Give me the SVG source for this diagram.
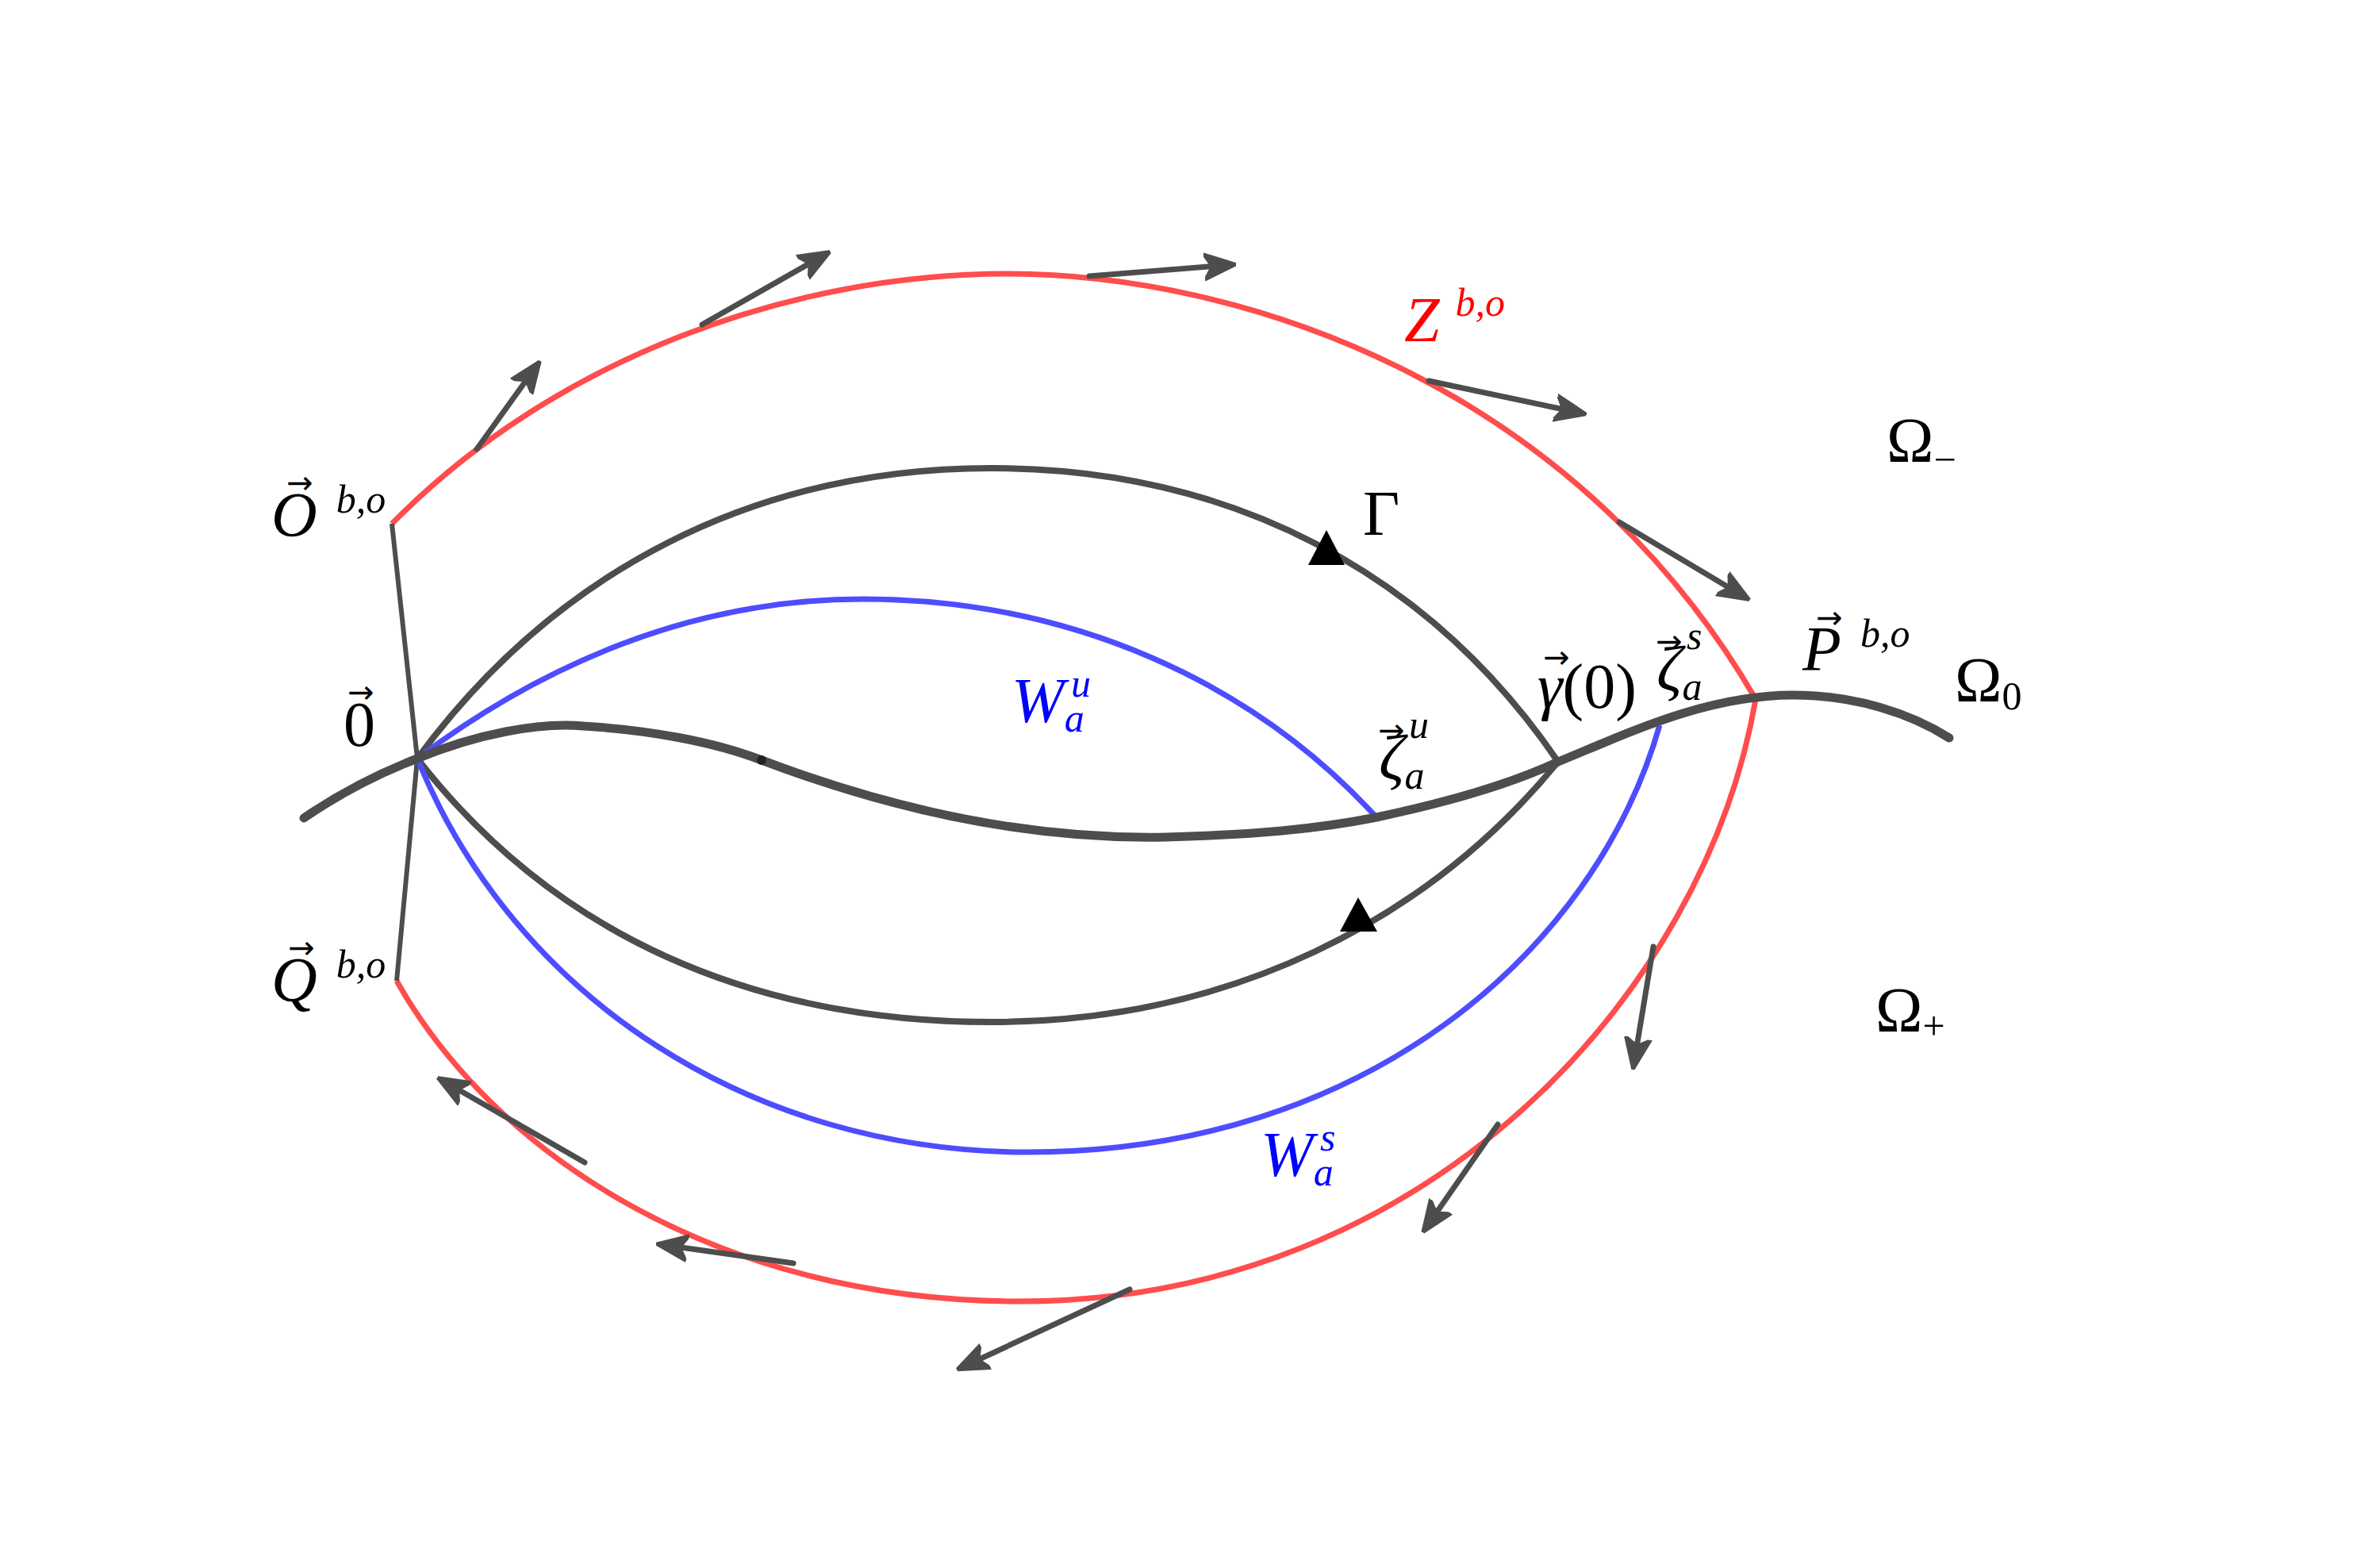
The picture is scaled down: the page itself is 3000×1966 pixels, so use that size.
<svg xmlns="http://www.w3.org/2000/svg" width="3000" height="1966" viewBox="0 0 3000 1966">
<style>
.red{fill:none;stroke:#ff4d4d;stroke-width:7}
.blue{fill:none;stroke:#4d4dff;stroke-width:7}
.blk{fill:none;stroke:#4d4d4d;stroke-width:8}
.gl{fill:none;stroke:#4d4d4d;stroke-width:6}
.arr{fill:none;stroke:#4d4d4d;stroke-width:7;stroke-linecap:round;marker-end:url(#ah)}
.t{font-family:"Liberation Serif",serif;font-style:italic;font-size:80px;fill:#000}
.u{font-family:"Liberation Serif",serif;font-size:80px;fill:#000}
.v{font-family:"DejaVu Sans",sans-serif;font-size:40px;fill:#000;text-anchor:middle}
.s{font-size:50px}
</style>
<defs>
<marker id="ah" viewBox="0 0 40 36" refX="30" refY="18" markerWidth="40" markerHeight="36" orient="auto" markerUnits="userSpaceOnUse">
<path d="M0,2 L40,18 L0,34 L10,18 Z" fill="#4d4d4d" stroke="#4d4d4d" stroke-width="4" stroke-linejoin="round"/>
</marker>
</defs>
<rect width="3000" height="1966" fill="#fff"/>
<g id="connectors">
<path class="red" d="M494,660 C700,450 1000,345 1270,345 C1560,345 1980,480 2213,881 C2150,1250 1800,1640 1285,1640 C900,1640 620,1450 500,1236"/>
<path class="gl" d="M494,660 L526,956 L500,1236"/>
<path class="blk" d="M526,956 C700,720 950,590 1250,590 C1550,590 1800,720 1964,960"/>
<path class="blk" d="M526,956 C700,1180 950,1288 1250,1288 C1550,1288 1800,1160 1964,960"/>
<path class="blue" d="M526,956 C680,840 870,755 1087,755 C1350,755 1580,860 1735,1030"/>
<path class="blue" d="M526,956 C650,1260 950,1452 1296,1452 C1720,1452 2010,1200 2092,914"/>
<path fill="none" stroke="#4d4d4d" stroke-width="11" stroke-linecap="round" d="M383,1031 Q450,985 526,956 C600,925 680,910 735,915 C820,920 900,935 960,958 C1150,1030 1320,1058 1470,1055 C1580,1052 1660,1045 1735,1030 C1820,1012 1900,990 1964,960 C2050,925 2150,876 2260,876 C2340,876 2410,900 2457,930"/>
<circle cx="960" cy="958" r="6" fill="#222"/>
<polygon points="1672,668 1649,712 1695,712" fill="#000"/>
<polygon points="1712,1131 1689,1174 1736,1174" fill="#000"/>
<g>
<line class="arr" x1="601" y1="566" x2="675" y2="463"/>
<line class="arr" x1="885" y1="409" x2="1038" y2="322"/>
<line class="arr" x1="1373" y1="348" x2="1548" y2="334"/>
<line class="arr" x1="1801" y1="480" x2="1990" y2="520"/>
<line class="arr" x1="2041" y1="658" x2="2197" y2="751"/>
<line class="arr" x1="2084" y1="1193" x2="2060" y2="1338"/>
<line class="arr" x1="1888" y1="1417" x2="1799" y2="1545"/>
<line class="arr" x1="1424" y1="1625" x2="1215" y2="1722"/>
<line class="arr" x1="1000" y1="1592" x2="837" y2="1569"/>
<line class="arr" x1="737" y1="1465" x2="560" y2="1363"/>
</g>
</g>
<g id="label-O"><text class="t" x="342" y="676">O<tspan class="s" dx="24" dy="-30">b,o</tspan></text><text class="v" x="378" y="622">→</text></g>
<g id="label-0"><text class="u" x="433" y="940">0</text><text class="v" x="455" y="886">→</text></g>
<g id="label-Q"><text class="t" x="342" y="1262">Q<tspan class="s" dx="24" dy="-30">b,o</tspan></text><text class="v" x="380" y="1208">→</text></g>
<g id="label-Z"><text class="t" x="1770" y="430" style="fill:#f00">Z<tspan class="s" dx="20" dy="-32">b,o</tspan></text></g>
<g id="label-Gamma"><text class="u" x="1718" y="674">Γ</text></g>
<g id="label-Om"><text class="u" x="2378" y="582">Ω<tspan class="s" dy="14">−</tspan></text></g>
<g id="label-P"><text class="t" x="2272" y="845">P<tspan class="s" dx="24" dy="-30">b,o</tspan></text><text class="v" x="2306" y="792">→</text></g>
<g id="label-O0"><text class="u" x="2464" y="884">Ω<tspan class="s" dy="10">0</tspan></text></g>
<g id="label-gamma"><text class="u" x="1938" y="892"><tspan font-style="italic">γ</tspan>(0)</text><text class="v" x="1962" y="842">→</text></g>
<g id="label-zs"><text class="t" x="2088" y="870">ζ<tspan class="s" dy="12">a</tspan></text><text class="v" x="2104" y="822">→</text><text class="t s" x="2126" y="818">s</text></g>
<g id="label-zu"><text class="t" x="1738" y="982">ζ<tspan class="s" dy="12">a</tspan></text><text class="v" x="1754" y="934">→</text><text class="t s" x="1776" y="930">u</text></g>
<g id="label-Wu"><text class="t" x="1275" y="910" style="fill:#00f">W<tspan class="s" dy="12">a</tspan></text><text class="t s" x="1350" y="878" style="fill:#00f">u</text></g>
<g id="label-Ws"><text class="t" x="1589" y="1482" style="fill:#00f">W<tspan class="s" dy="12">a</tspan></text><text class="t s" x="1664" y="1450" style="fill:#00f">s</text></g>
<g id="label-Op"><text class="u" x="2364" y="1300">Ω<tspan class="s" dy="10">+</tspan></text></g>
</svg>
